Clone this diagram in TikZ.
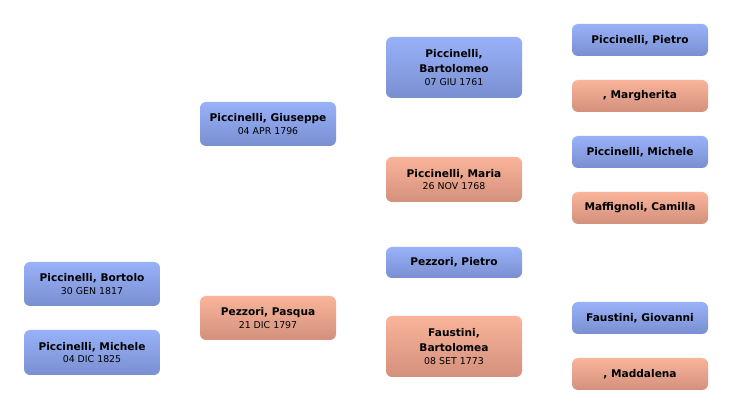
\documentclass[tikz,border=0pt]{standalone}
\usepackage{fontspec}
\setmainfont{DejaVu Sans}
\begin{document}
\begin{tikzpicture}[x=1pt,y=-1pt,
  box/.style={rounded corners=6pt, minimum width=136pt, inner sep=0pt, align=center, text=black},
  male/.style={box, top color=bluetop, bottom color=bluebot},
  female/.style={box, top color=orgtop, bottom color=orgbot},
  nm/.style={font=\fontsize{10.6}{15}\selectfont\bfseries},
]
\definecolor{bluetop}{RGB}{152,177,249}
\definecolor{bluebot}{RGB}{122,143,208}
\definecolor{orgtop}{RGB}{249,180,154}
\definecolor{orgbot}{RGB}{211,144,124}
\newcommand{\dt}[1]{\\[-2.5pt]{\fontsize{9.4}{10}\selectfont\mdseries #1}}
\useasboundingbox[fill=white] (0,0) rectangle (732,414);
% column 1
\node[male,nm,minimum height=44pt] (bortolo) at (92,284) {Piccinelli, Bortolo\dt{30 GEN 1817}};
\node[male,nm,minimum height=45pt] (michele1) at (92,352.5) {Piccinelli, Michele\dt{04 DIC 1825}};
% column 2
\node[male,nm,minimum height=44pt] (giuseppe) at (268,124) {Piccinelli, Giuseppe\dt{04 APR 1796}};
\node[female,nm,minimum height=44pt] (pasqua) at (268,318) {Pezzori, Pasqua\dt{21 DIC 1797}};
% column 3
\node[male,nm,minimum height=61pt] (bartolomeo) at (454,67.5) {Piccinelli,\\Bartolomeo\dt{07 GIU 1761}};
\node[female,nm,minimum height=45pt] (maria) at (454,179.5) {Piccinelli, Maria\dt{26 NOV 1768}};
\node[male,nm,minimum height=31pt] (ppietro) at (454,262.5) {Pezzori, Pietro};
\node[female,nm,minimum height=61pt] (bartolomea) at (454,346.5) {Faustini,\\Bartolomea\dt{08 SET 1773}};
% column 4
\node[male,nm,minimum height=32pt] (pietro) at (640,40) {Piccinelli, Pietro};
\node[female,nm,minimum height=32pt] (margherita) at (640,96) {, Margherita};
\node[male,nm,minimum height=32pt] (michele2) at (640,152) {Piccinelli, Michele};
\node[female,nm,minimum height=32pt] (camilla) at (640,208) {Maffignoli, Camilla};
\node[male,nm,minimum height=32pt] (giovanni) at (640,318) {Faustini, Giovanni};
\node[female,nm,minimum height=32pt] (maddalena) at (640,374) {, Maddalena};
\end{tikzpicture}
\end{document}
